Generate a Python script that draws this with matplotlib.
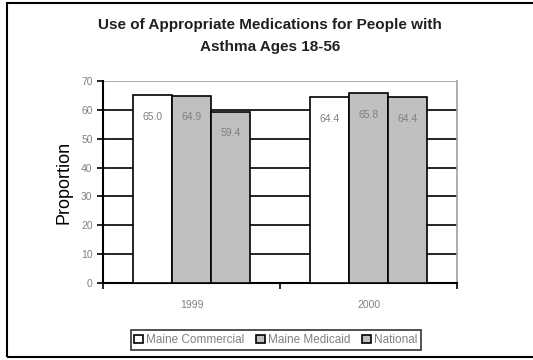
import numpy as np
import matplotlib.pyplot as plt
from matplotlib.patches import Rectangle

plt.rcParams['font.family'] = ['Liberation Sans', 'DejaVu Sans']

years = ['1999', '2000']
series = ['Maine Commercial', 'Maine Medicaid', 'National']
commercial = [65.0, 64.4]
medicaid = [64.9, 65.8]
national = [59.4, 64.4]
colors = ['white', '#c0c0c0', '#c0c0c0']

fig = plt.figure(figsize=(5.33, 3.6), dpi=100)
ax = fig.add_axes([103/533, 1 - 283/360, 354/533, 202/360])

x = np.arange(len(years))
w = 0.222
for i, (vals, c, name) in enumerate(zip([commercial, medicaid, national], colors, series)):
    pos = x + (i - 1) * w
    ax.bar(pos, vals, w, color=c, edgecolor='black', linewidth=1.2, label=name, zorder=3)
    for p, v in zip(pos, vals):
        ax.text(p, v - 7.5, '%.1f' % v, ha='center', va='center', fontsize=7.5, color='#808080', zorder=4)

ax.set_xlim(-0.5, 1.5)
ax.set_ylim(0, 70)
ax.set_yticks(range(0, 71, 10))
for yv in range(10, 70, 10):
    ax.axhline(yv, color='black', linewidth=1.2, zorder=1)
ax.axhline(70, color='#a0a0a0', linewidth=1.2, zorder=1)

ax.set_xticks(x)
ax.set_xticklabels(years)
ax.set_xticks([-0.5, 0.5, 1.5], minor=True)
ax.tick_params(axis='x', which='major', length=0, pad=12, labelsize=7.5, labelcolor='#808080')
ax.tick_params(axis='x', which='minor', length=4, direction='out', width=1.2)
ax.tick_params(axis='y', length=4, width=1.2, labelsize=7.5, labelcolor='#808080')

ax.spines['top'].set_visible(False)
ax.spines['right'].set_color('#a0a0a0')
ax.spines['right'].set_linewidth(1.2)
ax.spines['left'].set_linewidth(1.5)
ax.spines['bottom'].set_linewidth(1.5)

ax.set_ylabel('Proportion', fontsize=13, labelpad=6)

fig.text(270/533, 1 - 25/360, 'Use of Appropriate Medications for People with',
         ha='center', va='center', fontsize=11, fontweight='bold', color='#202020')
fig.text(270/533, 1 - 47/360, 'Asthma Ages 18-56',
         ha='center', va='center', fontsize=11, fontweight='bold', color='#202020')

leg = fig.legend(loc='center', bbox_to_anchor=(276/533, 1 - 340/360), ncol=3,
                 fontsize=8.5, frameon=True, fancybox=False, handlelength=0.7,
                 handleheight=0.7, handletextpad=0.3, columnspacing=1.0,
                 borderpad=0.3, labelcolor='#808080')
leg.get_frame().set_edgecolor('black')
leg.get_frame().set_linewidth(1.2)

fig.patches.append(Rectangle((7/533, 3/360), 1.0, 354/360, transform=fig.transFigure,
                             fill=False, edgecolor='black', linewidth=1.5))

plt.savefig('out.png')
